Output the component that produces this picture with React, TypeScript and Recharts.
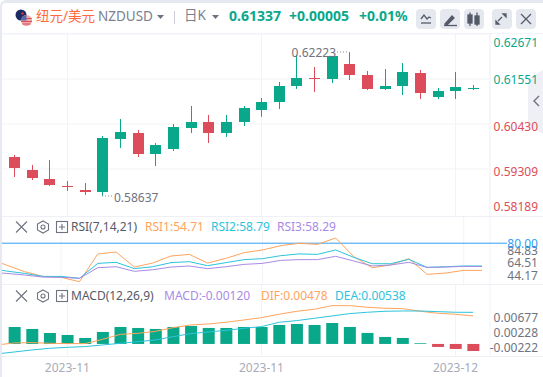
import React from "react";
import { Bar, CartesianGrid, Cell, ComposedChart, Line, ReferenceLine, XAxis, YAxis } from "recharts";

const dates = ["2023-10-26","2023-10-27","2023-10-30","2023-10-31","2023-11-01","2023-11-02","2023-11-03","2023-11-06","2023-11-07","2023-11-08","2023-11-09","2023-11-10","2023-11-13","2023-11-14","2023-11-15","2023-11-16","2023-11-17","2023-11-20","2023-11-21","2023-11-22","2023-11-23","2023-11-24","2023-11-27","2023-11-28","2023-11-29","2023-11-30","2023-12-01","2023-12-04"];
const dateTicks = ["2023-11-01", "2023-11-16", "2023-12-01"];
const opens = [null,.59609,.59285,.59061,.58887,.58787,.58737,.60057,.60206,.59684,.59808,.60331,.6048,.60206,.6048,.60779,.60978,.61377,.61576,.61551,.61925,.61651,.61302,.61377,.617,.61103,.61252,.61332];
const closes = [null,.59335,.59086,.58912,.5888,.58737,.60082,.60231,.59684,.59908,.60356,.6048,.60206,.6048,.60829,.60978,.61377,.61576,.61551,.62124,.61651,.61302,.61377,.61725,.61202,.61252,.61352,.61337];
const highs = [null,.59659,.5941,.59534,.59011,.58961,.60132,.60555,.60281,.59957,.6043,.60879,.60655,.60655,.60879,.61078,.61476,.62149,.6185,.62124,.62223,.6175,.618,.61949,.61775,.61327,.61725,.61402];
const lows = [null,.5911,.59036,.58887,.58762,.58663,.58637,.59833,.59609,.59385,.59758,.60206,.59957,.60107,.60381,.6061,.60804,.61302,.61227,.61451,.61526,.61277,.61277,.61153,.61053,.61053,.61053,.61277];
const rsi1 = [65.9,59.7,53.5,49.1,48.2,44.17,70,71.8,57.8,61.5,68.1,69.6,61.5,65.9,71.2,73.7,77.7,79.9,78.9,84.83,67.4,57.2,59.7,65.6,51,52.2,54.7,54.71];
const rsi2 = [57.2,54.1,51.9,49.1,49.1,47.3,61.2,62.2,56.3,58.1,61.9,62.8,59.1,61.9,64.7,65.6,68.4,70,69.6,73.7,66.8,60.9,60.9,65,57.5,58.1,58.8,58.79];
const rsi3 = [53.2,51.9,50.4,48.5,48.2,47.3,57.2,58.1,53.8,55.3,57.8,58.8,56.3,58.1,60.3,61.2,64,64.7,64.7,67.8,63.4,58.8,59.7,62.2,57.5,57.8,58.4,58.29];
const macdHist = [null,.00289,.00255,.00187,.00153,.00102,.00204,.00289,.00272,.00255,.00289,.00306,.00272,.00272,.00289,.00289,.00323,.0034,.00323,.00357,.00289,.00187,.00119,.00102,.00012,-.00051,-.00085,-.0012];
const dif = [-.00017,.00017,.00023,.00011,.00006,.00006,.00079,.00164,.00181,.00215,.00278,.00323,.0034,.00369,.00408,.00448,.00505,.00556,.0059,.00652,.00652,.00624,.00607,.00601,.00556,.00522,.00505,.00478];
const dea = [-.0017,-.00136,-.00102,-.00074,-.00057,-.00045,-.00017,.00011,.0004,.00068,.00125,.00176,.00204,.00232,.00266,.00295,.00369,.00397,.00437,.00476,.00516,.00539,.00556,.00561,.00561,.0055,.00539,.00538];
const priceTicks = [.62671,.61551,.6043,.59309,.58189];
const rsiTicks = [84.83,80,64.51,44.17];
const macdTicks = [.00677,.00228,-.00222];

const rows = dates.map((date, i) => ({
  date, open: opens[i], close: closes[i], high: highs[i], low: lows[i],
  rsi1: rsi1[i], rsi2: rsi2[i], rsi3: rsi3[i], hist: macdHist[i], dif: dif[i], dea: dea[i],
}));

const GREEN = "#0aa88b";
const RED = "#dc4c5a";
const ORANGE = "#ffa45c";
const CYAN = "#2cc4dc";
const PURPLE = "#a78be6";
const GRID = "#f2f3f8";
const GREY = "#6f7380";
const BLUE = "#2f9ff5";
const FONT = '"Noto Sans","Noto Sans CJK SC",sans-serif';
const W = 555;
const PAD = { left: 0, right: 8 };
const MARGIN = { top: 0, right: 0, bottom: 0, left: 0 };

const maxHigh = Math.max(...highs.filter((v) => v != null) as number[]);
const minLow = Math.min(...lows.filter((v) => v != null) as number[]);

function Candle(props: any) {
  const { x, y, width, height, payload } = props;
  if (payload.high == null) return null;
  const k = height / (payload.high - payload.low);
  const toY = (v: number) => y + (payload.high - v) * k;
  const up = payload.close >= payload.open;
  const color = up ? GREEN : RED;
  const cx = Math.round(x + width / 2);
  const top = Math.round(toY(Math.max(payload.open, payload.close)));
  const bottom = Math.round(toY(Math.min(payload.open, payload.close)));
  const isMax = payload.high === maxHigh;
  const isMin = payload.low === minLow;
  return (
    <g>
      <rect x={cx} y={y} width={1} height={height} fill={color} />
      <rect x={cx - 5} y={top} width={11} height={Math.max(1, bottom - top)} fill={color} />
      {isMax && (
        <g>
          <line x1={cx - 12} x2={cx} y1={y} y2={y} stroke="#8a8e9a" strokeDasharray="1 2" />
          <text x={cx - 13} y={y + 1} textAnchor="end" dominantBaseline="central" fontSize={12} fontFamily={FONT} fill={GREY}>{payload.high.toFixed(5)}</text>
        </g>
      )}
      {isMin && (
        <g>
          <line x1={cx} x2={cx + 11} y1={y + height} y2={y + height} stroke="#8a8e9a" strokeDasharray="1 2" />
          <text x={cx + 12} y={y + height + 2} textAnchor="start" dominantBaseline="central" fontSize={12} fontFamily={FONT} fill={GREY}>{payload.low.toFixed(5)}</text>
        </g>
      )}
    </g>
  );
}

const axisText = (props: any, text: string, dy: number, fill: string) => (
  <text x={props.x + 40} y={props.y + dy} textAnchor="end" dominantBaseline="central" fontSize={12} fontFamily={FONT} fill={fill}>{text}</text>
);

const priceDy = [8, 1, 2.7, 2.7, -7];
const PriceTick = (props: any) => {
  const i = priceTicks.indexOf(props.payload.value);
  return axisText(props, props.payload.value.toFixed(5), priceDy[i], i < 2 ? GREEN : RED);
};
const rsiDy = [12, 0, 3, -6];
const RsiTick = (props: any) => {
  const i = rsiTicks.indexOf(props.payload.value);
  if (i === 1) {
    return (
      <g>
        <line x1={props.x - 8} x2={props.x + 9} y1={props.y} y2={props.y} stroke={BLUE} />
        {axisText(props, props.payload.value.toFixed(2), 0, BLUE)}
      </g>
    );
  }
  return axisText(props, props.payload.value.toFixed(2), rsiDy[i], GREY);
};
const macdDy = [13.5, 2, -10];
const MacdTick = (props: any) => {
  const i = macdTicks.indexOf(props.payload.value);
  return axisText(props, props.payload.value.toFixed(5), macdDy[i], GREY);
};

const abs = (left: number, top: number, extra: React.CSSProperties = {}): React.CSSProperties => ({
  position: "absolute", left, top, lineHeight: 1, whiteSpace: "nowrap", fontFamily: FONT, ...extra,
});

function Caret({ x }: { x: number }) {
  return <svg style={{ position: "absolute", left: x, top: 15 }} width={7} height={5}><path d="M0 0H7L3.5 4Z" fill="#6f7380" /></svg>;
}

function PanelIcons({ y }: { y: number }) {
  return (
    <svg style={{ position: "absolute", left: 14, top: y - 7 }} width={56} height={14} fill="none" stroke="#6f7380">
      <path d="M2 1.5L13 12.5M13 1.5L2 12.5" strokeWidth={1.1} />
      <path d="M29 1L34.5 4V10L29 13L23.5 10V4Z" strokeWidth={1.1} />
      <circle cx={29} cy={7} r={2} strokeWidth={1.1} />
      <rect x={42.5} y={1.5} width={11} height={11} strokeWidth={1.1} />
      <path d="M48 4V10M45 7H51" strokeWidth={1.1} />
    </svg>
  );
}

const buttons = [416, 440, 464, 492, 516];

function Header() {
  return (
    <>
      <svg style={{ position: "absolute", left: 14, top: 8 }} width={20} height={20}>
        <circle cx={7} cy={7} r={5.5} fill="#1c2a63" />
        <circle cx={8.5} cy={5.5} r={1.2} fill="#d8344a" />
        <circle cx={11} cy={8} r={1} fill="#d8344a" />
        <circle cx={12.5} cy={12.5} r={5.5} fill="#f0a9a9" />
        <path d="M7.5 10.5H17.8M7.2 13.5H18M8.5 16H16.5" stroke="#d8505a" strokeWidth={1.2} />
        <path d="M7 12.5A5.5 5.5 0 0 1 12.5 7V12.5Z" fill="#5a6aa8" />
      </svg>
      <span style={abs(36, 10, { fontSize: 13.5, color: "#ff6b3d" })}>纽元/美元</span>
      <span style={abs(98, 10, { fontSize: 13.5, color: "#7a7f8f" })}>NZDUSD</span>
      <Caret x={157} />
      <div style={{ position: "absolute", left: 174, top: 11, width: 1, height: 13, background: "#c9ccd6" }} />
      <span style={abs(184, 9, { fontSize: 13.5, color: "#7a7f8f" })}>日K</span>
      <Caret x={212} />
      <span style={abs(229, 9, { fontSize: 14, fontWeight: 700, color: GREEN })}>0.61337</span>
      <span style={abs(289, 9, { fontSize: 14, fontWeight: 700, color: GREEN })}>+0.00005</span>
      <span style={abs(359, 9, { fontSize: 14, fontWeight: 700, color: GREEN })}>+0.01%</span>
      {buttons.map((x) => (
        <div key={x} style={{ position: "absolute", left: x, top: 9, width: 20, height: 20, borderRadius: 4, background: "#e6e8f0" }} />
      ))}
      <svg style={{ position: "absolute", left: 416, top: 9 }} width={120} height={20} fill="none" stroke="#555a68" strokeWidth={1.3}>
        <path d="M5 10L8 6L11 10L13 8L15 9" />
        <path d="M5 14H15" />
        <path d="M29 15L36 7L38 9L31 16Z" fill="#555a68" />
        <path d="M28 16.5H41" />
        <rect x={52} y={6} width={4} height={8} fill="#555a68" />
        <path d="M54 3.5V17M61 3.5V17" />
        <rect x={59} y={7} width={4} height={8} fill="#555a68" />
        <path d="M82 12L86 8M80 15L83 15L80 12ZM90 5L87 5L90 8Z" />
        <path d="M105 5L115 15M115 5L105 15" />
      </svg>
    </>
  );
}

export default function App() {
  return (
    <div style={{ position: "fixed", left: 0, top: 0, width: 543, height: 377, overflow: "hidden", background: "#fff" }}>
      <svg style={{ position: "absolute", left: 528, top: 70 }} width={15} height={64}>
        <path d="M0 8L15 0V64L0 56Z" fill="#eef0f5" />
        <path d="M11 26L6 31L11 36" fill="none" stroke="#6f7380" strokeWidth={1.4} />
      </svg>

      <div style={{ position: "absolute", left: -12, top: 34 }}>
        <ComposedChart width={W} height={183} data={rows} margin={MARGIN}>
          <CartesianGrid stroke={GRID} horizontalValues={[.62671,.61551,.6043,.59309]} />
          <XAxis dataKey="date" hide ticks={dateTicks} padding={PAD} interval={0} />
          <YAxis orientation="right" width={53} domain={[.58114,.62671]} ticks={priceTicks} interval={0} tickLine={false} axisLine={{ stroke: GRID }} tick={PriceTick} />
          <Bar dataKey={(d: any) => (d.high == null ? null : [d.low, d.high])} barSize={11} shape={Candle} isAnimationActive={false} />
        </ComposedChart>
      </div>
      <div style={{ position: "absolute", left: -12, top: 217 }}>
        <ComposedChart width={W} height={67} data={rows} margin={MARGIN}>
          <CartesianGrid stroke={GRID} horizontal={false} />
          <XAxis dataKey="date" hide ticks={dateTicks} padding={PAD} interval={0} />
          <YAxis orientation="right" width={53} domain={[42.03,104.38]} ticks={rsiTicks} interval={0} tickLine={false} axisLine={false} tick={RsiTick} />
          <ReferenceLine y={80} stroke={BLUE} />
          <Line dataKey="rsi1" stroke={ORANGE} strokeWidth={1} dot={false} isAnimationActive={false} />
          <Line dataKey="rsi2" stroke={CYAN} strokeWidth={1} dot={false} isAnimationActive={false} />
          <Line dataKey="rsi3" stroke={PURPLE} strokeWidth={1} dot={false} isAnimationActive={false} />
        </ComposedChart>
      </div>
      <div style={{ position: "absolute", left: -12, top: 285 }}>
        <ComposedChart width={W} height={92} data={rows} margin={MARGIN}>
          <CartesianGrid stroke={GRID} horizontal={false} />
          <XAxis dataKey="date" ticks={dateTicks} padding={PAD} interval={0} height={20} axisLine={false} tickLine={false} tickFormatter={(v: string) => v.slice(0, 7)} tick={{ fontSize: 12, fontFamily: FONT, fill: "#a8acb8" }} tickMargin={0} />
          <YAxis orientation="right" width={53} domain={[-.00222,.01003]} ticks={macdTicks} interval={0} tickLine={false} axisLine={false} tick={MacdTick} />
          <Bar dataKey="hist" barSize={12} isAnimationActive={false}>
            {rows.map((r) => <Cell key={r.date} fill={(r.hist ?? 0) >= 0 ? GREEN : RED} />)}
          </Bar>
          <Line dataKey="dif" stroke={ORANGE} strokeWidth={1} dot={false} isAnimationActive={false} />
          <Line dataKey="dea" stroke={CYAN} strokeWidth={1} dot={false} isAnimationActive={false} />
        </ComposedChart>
      </div>

      <div style={{ position: "absolute", left: 0, top: 33, width: 543, height: 1, background: GRID }} />
      <div style={{ position: "absolute", left: 0, top: 216, width: 543, height: 1, background: "#eef0f5" }} />
      <div style={{ position: "absolute", left: 0, top: 284, width: 543, height: 1, background: "#eef0f5" }} />
      <div style={{ position: "absolute", left: 0, top: 356, width: 543, height: 1, background: "#eef0f5" }} />

      <Header />

      <PanelIcons y={227} />
      <span style={abs(71, 221, { fontSize: 12, color: "#555a68" })}>RSI(7,14,21)</span>
      <span style={abs(145, 221, { fontSize: 12, color: ORANGE })}>RSI1:54.71</span>
      <span style={abs(211, 221, { fontSize: 12, color: CYAN })}>RSI2:58.79</span>
      <span style={abs(277, 221, { fontSize: 12, color: PURPLE })}>RSI3:58.29</span>

      <PanelIcons y={296} />
      <span style={abs(71, 290, { fontSize: 12, color: "#555a68" })}>MACD(12,26,9)</span>
      <span style={abs(164, 290, { fontSize: 12, color: PURPLE })}>MACD:-0.00120</span>
      <span style={abs(261, 290, { fontSize: 12, color: ORANGE })}>DIF:0.00478</span>
      <span style={abs(335, 290, { fontSize: 12, color: CYAN })}>DEA:0.00538</span>

      <div style={{ position: "absolute", left: 0, top: 0, width: 543, height: 377, boxSizing: "border-box", borderLeft: "2px solid #e6e9f0", borderTop: "3px solid #e6e9f0", borderTopLeftRadius: 6, pointerEvents: "none" }} />
    </div>
  );
}
